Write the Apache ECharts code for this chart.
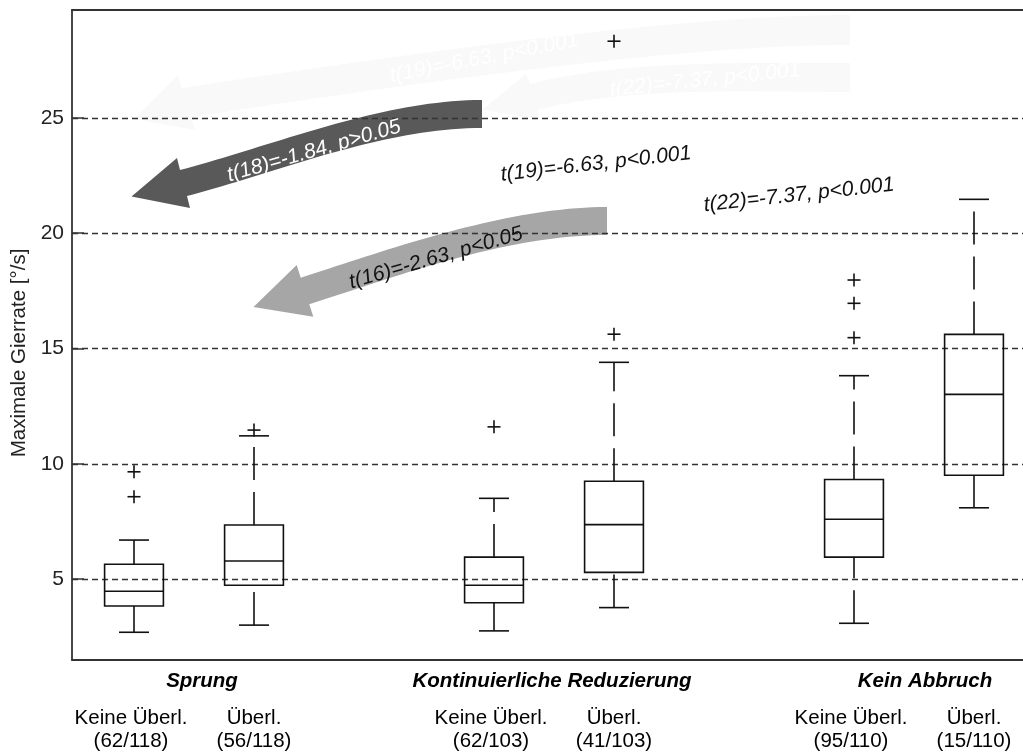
<!DOCTYPE html>
<html>
<head>
<meta charset="utf-8">
<script src="https://cdn.jsdelivr.net/npm/echarts@6/dist/echarts.min.js"></script>
<style>
  html, body { margin: 0; padding: 0; background: #fff; }
  #main { width: 1023px; height: 753px; }
</style>
</head>
<body>
<div id="main"></div>
<script>
// Maneuver groups and the two conditions inside each group
const groupNames = ['Sprung', 'Kontinuierliche Reduzierung', 'Kein Abbruch'];
const conditionNames = ['Keine Überl.', 'Überl.'];
const sampleCounts = ['(62/118)', '(56/118)', '(62/103)', '(41/103)', '(95/110)', '(15/110)'];

// Box statistics per box (Sprung K/Ü, Kontinuierlich K/Ü, Kein Abbruch K/Ü), in °/s
const whiskerLow  = [2.69, 3.00, 2.75, 3.76, 3.08, 8.09];
const quartile1   = [3.83, 4.73, 3.97, 5.29, 5.95, 9.50];
const medians     = [4.47, 5.78, 4.73, 7.36, 7.59, 13.01];
const quartile3   = [5.64, 7.34, 5.95, 9.24, 9.32, 15.61];
const whiskerHigh = [6.69, 11.21, 8.50, 14.40, 13.82, 21.47];

// Outliers: [box index, value]
const outliers = [
  [0, 9.65], [0, 8.57],
  [1, 11.46],
  [2, 11.60],
  [3, 15.62], [3, 28.33],
  [4, 17.97], [4, 16.96], [4, 15.47]
];

// Paired t-tests drawn as arrows
const testLabels = [
  't(18)=-1.84, p>0.05',
  't(16)=-2.63, p<0.05',
  't(19)=-6.63, p<0.001',
  't(22)=-7.37, p<0.001'
];

const yTicks = [5, 10, 15, 20, 25];

// slot on the x axis for each box: two boxes per group, one empty slot between groups
const slotOf = i => Math.floor(i / 2) * 3 + (i % 2) + 1;

const boxData = whiskerLow.map((v, i) => [slotOf(i), v, quartile1[i], medians[i], quartile3[i], whiskerHigh[i]]);
const outlierData = outliers.map(o => [slotOf(o[0]), o[1]]);

const FONT = '"Liberation Sans", Arial, sans-serif';
const INK = '#111';
const FRAME = '#333';
const chart = echarts.init(document.getElementById('main'));

function boxItem(params, api) {
  const x = api.value(0);
  const halfW = api.size([0.49, 0])[0] / 2;
  const capHalf = api.size([0.25, 0])[0] / 2;
  const pLow = api.coord([x, api.value(1)]);
  const pQ1 = api.coord([x, api.value(2)]);
  const pMed = api.coord([x, api.value(3)]);
  const pQ3 = api.coord([x, api.value(4)]);
  const pHigh = api.coord([x, api.value(5)]);
  const cx = pMed[0];
  const solid = { stroke: INK, lineWidth: 1.6, fill: null };
  const dashed = { stroke: INK, lineWidth: 1.6, fill: null, lineDash: [33, 12] };
  return {
    type: 'group',
    children: [
      { type: 'rect', shape: { x: cx - halfW, y: pQ3[1], width: 2 * halfW, height: pQ1[1] - pQ3[1] }, style: solid },
      { type: 'line', shape: { x1: cx - halfW, y1: pMed[1], x2: cx + halfW, y2: pMed[1] }, style: solid },
      // whiskers are drawn upwards from their lower end
      { type: 'line', shape: { x1: cx, y1: pLow[1], x2: cx, y2: pQ1[1] }, style: dashed },
      { type: 'line', shape: { x1: cx, y1: pQ3[1], x2: cx, y2: pHigh[1] }, style: dashed },
      { type: 'line', shape: { x1: cx - capHalf, y1: pLow[1], x2: cx + capHalf, y2: pLow[1] }, style: solid },
      { type: 'line', shape: { x1: cx - capHalf, y1: pHigh[1], x2: cx + capHalf, y2: pHigh[1] }, style: solid }
    ]
  };
}

function plusItem(params, api) {
  const p = api.coord([api.value(0), api.value(1)]);
  const r = 6.5;
  const st = { stroke: INK, lineWidth: 1.6 };
  return {
    type: 'group',
    children: [
      { type: 'line', shape: { x1: p[0] - r, y1: p[1], x2: p[0] + r, y2: p[1] }, style: st },
      { type: 'line', shape: { x1: p[0], y1: p[1] - r, x2: p[0], y2: p[1] + r }, style: st }
    ]
  };
}

const GRID = { left: 72, top: 10, right: 0, height: 650 };
const PLOT_W = 1023 - GRID.left - GRID.right;
const PX_PER_SLOT = 120;
const xMin = 1 - 62 / PX_PER_SLOT;
const frameLine = { show: true, onZero: false, lineStyle: { color: FRAME, width: 1.8 } };

chart.setOption({
  animation: false,
  backgroundColor: '#fff',
  grid: GRID,
  xAxis: [
    { type: 'value', min: xMin, max: xMin + PLOT_W / PX_PER_SLOT, position: 'bottom', z: 6,
      axisLine: frameLine, axisTick: { show: false }, axisLabel: { show: false }, splitLine: { show: false } },
    { type: 'value', min: xMin, max: xMin + PLOT_W / PX_PER_SLOT, position: 'top', z: 6,
      axisLine: frameLine, axisTick: { show: false }, axisLabel: { show: false }, splitLine: { show: false } }
  ],
  yAxis: {
    type: 'value', min: 1.487, max: 29.683, minInterval: 5, maxInterval: 5, z: 3,
    name: 'Maximale Gierrate [°/s]', nameLocation: 'middle', nameGap: 41,
    nameTextStyle: { fontFamily: FONT, fontSize: 20.5, color: '#222', padding: [0, 36, 0, 0] },
    axisLine: frameLine,
    axisTick: { show: true, inside: true, length: 12, lineStyle: { color: FRAME, width: 1.5 },
      customValues: yTicks },
    axisLabel: { fontFamily: FONT, fontSize: 21, color: '#222', margin: 8, customValues: yTicks },
    splitLine: { show: true, lineStyle: { color: FRAME, width: 1.4, type: [6, 4] } }
  },
  series: [
    { type: 'custom', renderItem: boxItem, data: boxData, z: 5, clip: false,
      encode: { x: 0, y: [1, 2, 3, 4, 5] } },
    { type: 'custom', renderItem: plusItem, data: outlierData, z: 5, clip: false,
      encode: { x: 0, y: 1 } }
  ]
});

// Annotation layer: curved arrows with their test results, and the captions below the axis
function cubic(p0, c1, c2, p1, n) {
  const pts = [];
  for (let k = 0; k <= n; k++) {
    const t = k / n, u = 1 - t;
    pts.push([
      u * u * u * p0[0] + 3 * u * u * t * c1[0] + 3 * u * t * t * c2[0] + t * t * t * p1[0],
      u * u * u * p0[1] + 3 * u * u * t * c1[1] + 3 * u * t * t * c2[1] + t * t * t * p1[1]
    ]);
  }
  return pts;
}
// upper edge from the tail to the head, head corners and tip, lower edge back to the tail
function arrow(upper, head, lower, fill) {
  const pts = cubic(upper[0], upper[1], upper[2], upper[3], 40)
    .concat(head)
    .concat(cubic(lower[0], lower[1], lower[2], lower[3], 40));
  return { type: 'polygon', z: 1, silent: true, shape: { points: pts }, style: { fill: fill, stroke: null } };
}
function label(text, x, y, deg, style) {
  return {
    type: 'text', x: x, y: y, rotation: deg * Math.PI / 180, z: 10, silent: true,
    style: Object.assign({ text: text, fontFamily: FONT, fontSize: 21, fontStyle: 'italic', fill: INK,
      align: 'center', verticalAlign: 'middle' }, style || {})
  };
}

const GHOST = '#f9f9f9';
const gfx = [
  // faded arrows in the background
  arrow([[850, 15], [700, 15], [470, 44], [182, 88]],
        [[178, 75], [134, 119], [195, 130]],
        [[191, 117], [480, 73], [700, 45], [850, 45]], GHOST),
  arrow([[850, 63], [750, 63], [620, 60], [530, 84]],
        [[526, 74], [482, 110], [540, 119]],
        [[537, 110], [630, 86], [750, 92], [850, 92]], GHOST),
  label(testLabels[2], 484, 58, 11, { fill: '#fff' }),
  label(testLabels[3], 705, 80, 6, { fill: '#fff' }),
  // dark arrow
  arrow([[482, 100], [382, 100], [272, 146], [180, 170]],
        [[177, 158], [131.5, 196.6], [190, 208]],
        [[187, 196], [279, 172], [382, 128], [482, 128]], '#595959'),
  label(testLabels[0], 314, 151, 16, { fill: '#fff' }),
  // light arrow
  arrow([[607, 207], [507, 207], [391, 248.6], [300.7, 277.7]],
        [[296.7, 265], [253.5, 307], [313.3, 316.7]],
        [[309.3, 304.3], [399.7, 275.2], [507, 235], [607, 235]], '#a6a6a6'),
  label(testLabels[1], 436, 258, 16),
  // free-standing results
  label(testLabels[2], 596, 164, 6.5),
  label(testLabels[3], 799, 195, 6.2)
];

// captions under the axis
const groupCaptionX = [202, 552, 925];
groupNames.forEach((g, gi) => {
  gfx.push(label(g, groupCaptionX[gi], 681, 0, { fontWeight: 'bold', fontSize: 20.5, fill: '#000' }));
});
sampleCounts.forEach((c, i) => {
  const px = chart.convertToPixel({ xAxisIndex: 0 }, slotOf(i));
  const dx = i % 2 ? 0 : -3;
  gfx.push(label(conditionNames[i % 2], px + dx, 718, 0, { fontStyle: 'normal', fontSize: 20.5, fill: '#000' }));
  gfx.push(label(c, px + dx, 741, 0, { fontStyle: 'normal', fontSize: 20.5, fill: '#000' }));
});

chart.setOption({ graphic: { elements: gfx } });
</script>
</body>
</html>
